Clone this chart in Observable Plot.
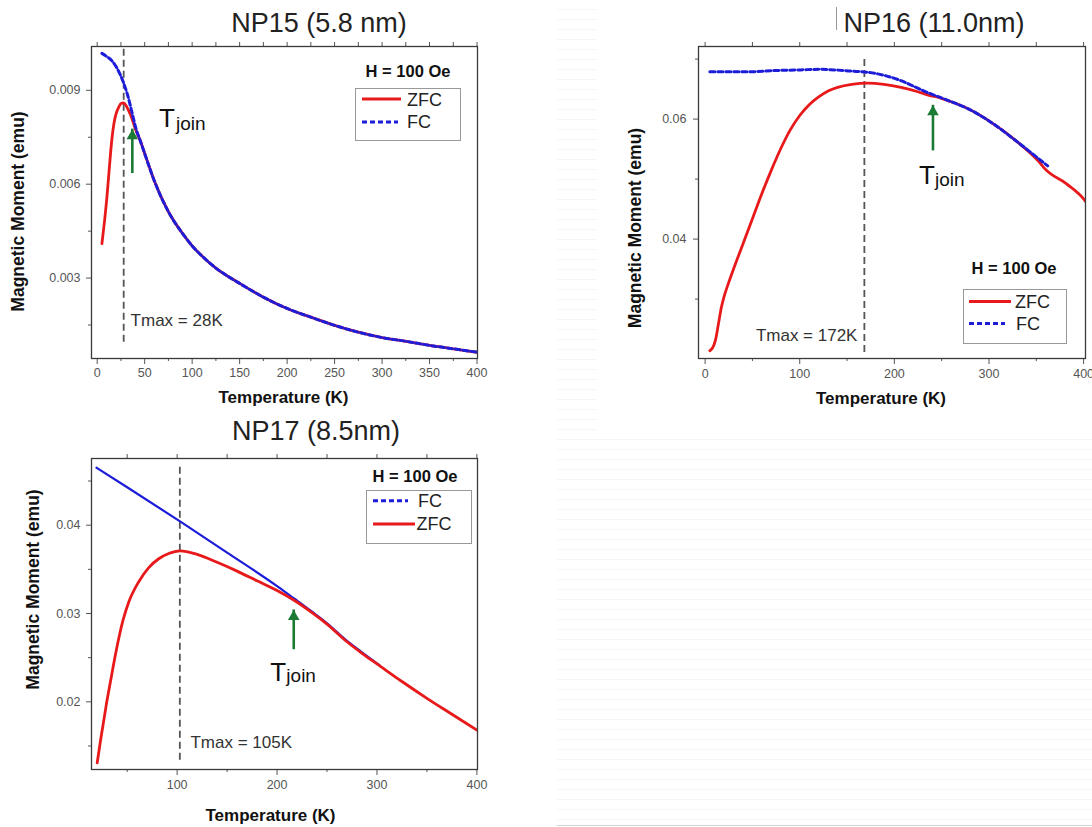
<!DOCTYPE html>
<html><head><meta charset="utf-8">
<script src="https://cdn.jsdelivr.net/npm/d3@7"></script>
<script src="https://cdn.jsdelivr.net/npm/@observablehq/plot@0.6"></script>
<style>
html,body{margin:0;padding:0;background:#fff;}
#wrap{position:relative;width:1092px;height:827px;overflow:hidden;font-family:"Liberation Sans",Arial,sans-serif;background:#fff;}
.panel{position:absolute;}
#stripesA{position:absolute;left:557px;top:0;width:40px;height:430px;background:repeating-linear-gradient(to bottom,#fff 0,#fff 9px,#f6f6f6 9px,#f6f6f6 10px);}
#stripesB{position:absolute;left:557px;top:430px;width:535px;height:395px;background:repeating-linear-gradient(to bottom,#fff 0,#fff 9px,#f6f6f6 9px,#f6f6f6 10px);}
#overlay{position:absolute;left:0;top:0;pointer-events:none;}
</style></head><body><div id="wrap"><div id="stripesA"></div><div id="stripesB"></div></div>
<script>
// ---------------- DATA ----------------
const titles = ["NP15 (5.8 nm)", "NP16 (11.0nm)", "NP17 (8.5nm)"];
const xLabel = "Temperature (K)";
const yLabel = "Magnetic Moment (emu)";
const fieldLabel = "H = 100 Oe";

// NP15
const np15ZfcT = [5, 8, 10, 13, 15, 18, 20, 23, 25, 28, 31, 33, 36, 38, 40, 45, 50, 60, 75, 90, 100, 112, 125, 150, 175, 200, 225, 250, 275, 300, 325, 350, 375, 400];
const np15ZfcM = [0.0041, 0.0049, 0.0055, 0.0066, 0.0073, 0.0080, 0.00826, 0.00848, 0.00858, 0.0086, 0.00848, 0.00836, 0.00815, 0.00797, 0.00778, 0.00742, 0.00698, 0.00612, 0.00512, 0.00442, 0.00403, 0.00366, 0.00332, 0.00283, 0.00239, 0.00203, 0.00175, 0.00149, 0.00127, 0.0011, 0.00098, 0.00085, 0.00074, 0.00063];
const np15FcT = [5, 10, 15, 20, 25, 28, 32, 35, 38, 41, 45, 50, 60, 75, 90, 100, 112, 125, 150, 175, 200, 225, 250, 275, 300, 325, 350, 375, 400];
const np15FcM = [0.01018, 0.01008, 0.00996, 0.00975, 0.00945, 0.00922, 0.00885, 0.0085, 0.00812, 0.00776, 0.00742, 0.00698, 0.00612, 0.00512, 0.00442, 0.00403, 0.00366, 0.00332, 0.00283, 0.00239, 0.00203, 0.00175, 0.00149, 0.00127, 0.0011, 0.00098, 0.00085, 0.00074, 0.00063];

// NP16
const np16ZfcT = [5, 8, 11, 14, 17, 20, 25, 30, 40, 50, 60, 70, 80, 90, 100, 110, 120, 130, 140, 155, 172, 189, 207, 224, 236, 249, 260, 277, 300, 330, 355, 358, 382, 400, 402];
const np16ZfcM = [0.0214, 0.0219, 0.0232, 0.0258, 0.0285, 0.0304, 0.0328, 0.035, 0.0392, 0.0434, 0.0476, 0.0515, 0.0551, 0.0582, 0.0606, 0.0624, 0.0637, 0.0647, 0.0653, 0.0658, 0.066, 0.0658, 0.0653, 0.0646, 0.064, 0.0635, 0.0629, 0.0618, 0.0597, 0.0562, 0.0525, 0.0519, 0.0492, 0.0467, 0.0463];
const np16FcT = [5, 25, 48, 75, 101, 120, 136, 155, 172, 189, 207, 220, 231, 242, 252, 260, 277, 300, 330, 350, 362];
const np16FcM = [0.0679, 0.0679, 0.0679, 0.0681, 0.0682, 0.0683, 0.0682, 0.068, 0.0678, 0.0673, 0.0664, 0.0655, 0.0647, 0.064, 0.0634, 0.0629, 0.0618, 0.0597, 0.0562, 0.0537, 0.0522];

// NP17
const np17ZfcT = [20, 22, 24, 26.6, 29, 32, 36, 41.6, 46, 51.6, 61.6, 71.6, 81.6, 91.6, 103, 120, 140, 160, 180, 200, 217, 235, 250, 270, 285, 300, 325, 350, 375, 400];
const np17ZfcM = [0.0131, 0.0146, 0.0161, 0.0179, 0.0196, 0.0215, 0.024, 0.0272, 0.0293, 0.0313, 0.0336, 0.0352, 0.0362, 0.0368, 0.0371, 0.0367, 0.0358, 0.0348, 0.0337, 0.0326, 0.0315, 0.0301, 0.0288, 0.0268, 0.0255, 0.0243, 0.0223, 0.0204, 0.0186, 0.0168];
const np17FcT = [19.3, 50, 103.3, 150, 200, 217, 235, 250, 270, 285, 303];
const np17FcM = [0.0465, 0.0443, 0.0404, 0.0369, 0.0331, 0.0317, 0.0302, 0.0289, 0.0269, 0.0256, 0.0241];

// annotations: Tmax rule (x, y1, y2), Tmax label (x, y), Tjoin label (x, y), arrow (x, tail, tip)
const tmaxLabels = ["Tmax = 28K", "Tmax = 172K", "Tmax = 105K"];
const tmaxRules = [[27.9, 0.00095, 0.0104], [168.3, 0.0211, 0.0700], [102.7, 0.0134, 0.0468]];
const tmaxTextPos = [[35.2, 0.001465], [161, 0.02305], [113.3, 0.01472]];
const tjoinPos = [[65, 0.00782], [226, 0.04917], [193.3, 0.0224]];
const arrows = [[37, 0.00634, 0.00776], [240.8, 0.0547, 0.0623], [216.7, 0.0259, 0.0304]];

// ticks
const np15XTicks = [0, 50, 100, 150, 200, 250, 300, 350, 400];
const np15YTicks = [0.003, 0.006, 0.009];
const np16XTicks = [0, 100, 200, 300, 400];
const np16YTicks = [0.04, 0.06];
const np17XTicks = [100, 200, 300, 400];
const np17YTicks = [0.02, 0.03, 0.04];

// ---------------- DRAWING ----------------
const RED = "#e8191b", BLUE = "#1c1cd9", GREEN = "#1b7a34";
const FONT = "Liberation Sans, Arial, sans-serif";
const rows = (T, M) => T.map((t, i) => ({T: t, M: M[i]}));
const range = (a, b, s) => d3.range(a, b + s / 2, s);

function makePanel(cfg, i) {
  const zfc = rows(cfg.zfcT, cfg.zfcM), fc = rows(cfg.fcT, cfg.fcM);
  const [rx, ry1, ry2] = tmaxRules[i];
  const [tx, ty] = tmaxTextPos[i];
  const [jx, jy] = tjoinPos[i];
  const [ax, atail, atip] = arrows[i];
  const fcMark = cfg.fcSolid
    ? Plot.line(fc, {x: "T", y: "M", stroke: BLUE, strokeWidth: 2.2, curve: "monotone-x", clip: true})
    : Plot.line(fc, {x: "T", y: "M", stroke: BLUE, strokeWidth: 3, strokeDasharray: "5,3", curve: "monotone-x", clip: true});
  const zfcMark = Plot.line(zfc, {x: "T", y: "M", stroke: RED, strokeWidth: 2.8, curve: "monotone-x", clip: true});
  const lines = cfg.fcSolid ? [fcMark, zfcMark] : [zfcMark, fcMark];
  const blank = () => "";
  const p = Plot.plot({
    width: cfg.width, height: cfg.height,
    marginLeft: cfg.ml, marginRight: cfg.mr, marginTop: cfg.mt, marginBottom: cfg.mb,
    style: {fontFamily: FONT, background: "white", overflow: "visible"},
    x: {domain: cfg.xDomain},
    y: {domain: cfg.yDomain},
    marks: [
      Plot.axisX({anchor: "bottom", ticks: cfg.xTicks, tickSize: 6, tickPadding: cfg.xPad, tickFormat: d => String(d), label: null, fontSize: 12.5, color: "#555"}),
      Plot.axisX({anchor: "bottom", ticks: cfg.xMinor, tickSize: 3, tickFormat: blank, label: null, color: "#555"}),
      Plot.axisX({anchor: "top", ticks: cfg.xTop, tickSize: 5, tickFormat: blank, label: null, color: "#555"}),
      Plot.axisY({anchor: "left", ticks: cfg.yTicks, tickSize: 5, tickPadding: cfg.yPad, tickFormat: d3.format(cfg.yFmt), label: null, fontSize: 12.5, color: "#555"}),
      Plot.axisY({anchor: "left", ticks: cfg.yMinor, tickSize: 3, tickFormat: blank, label: null, color: "#555"}),
      Plot.ruleX([{x: rx, y1: ry1, y2: ry2}], {x: "x", y1: "y1", y2: "y2", stroke: "#555", strokeWidth: 1.8, strokeDasharray: "7,4"}),
      ...lines,
      Plot.frame({stroke: "#3a3a3a", strokeWidth: 1.3}),
      Plot.text([{x: tx, y: ty, t: tmaxLabels[i]}], {x: "x", y: "y", text: "t", textAnchor: cfg.tmaxAnchor, lineAnchor: "bottom", fontSize: 17, fill: "#333"}),
      Plot.text([{x: jx, y: jy}], {x: "x", y: "y", text: () => "T", textAnchor: "start", lineAnchor: "bottom", fontSize: 26, fill: "#111"}),
      Plot.text([{x: jx, y: jy}], {x: "x", y: "y", text: () => "join", textAnchor: "start", lineAnchor: "bottom", fontSize: 19, fill: "#111", dx: cfg.joinDx, dy: cfg.joinDy}),
      Plot.ruleX([{x: ax, y1: atail, y2: atip}], {x: "x", y1: "y1", y2: "y2", stroke: GREEN, strokeWidth: 2.6}),
      Plot.dot([{x: ax, y: atip}], {x: "x", y: "y", symbol: "triangle", r: 4.3, fill: GREEN, stroke: "none", dy: 6.7}),
      Plot.text([xLabel], {text: d => d, frameAnchor: "bottom", textAnchor: "middle", lineAnchor: "bottom", dx: cfg.xlDx, dy: cfg.xlDy, fontSize: 17, fontWeight: "bold", fill: "#111"}),
      Plot.text([yLabel], {text: d => d, frameAnchor: "left", textAnchor: "middle", lineAnchor: "middle", rotate: -90, dx: cfg.ylDx, dy: cfg.ylDy, fontSize: 17.5, fontWeight: "bold", fill: "#111"})
    ]
  });
  const div = document.createElement("div");
  div.className = "panel";
  div.style.left = cfg.left + "px";
  div.style.top = cfg.top + "px";
  div.appendChild(p);
  document.getElementById("wrap").appendChild(div);
}

const panels = [
  {left: 0, top: 0, width: 490, height: 410, ml: 91, mr: 13, mt: 46, mb: 52,
   xDomain: [-6, 400.5], yDomain: [0.00043, 0.0104],
   xTicks: np15XTicks, xMinor: range(25, 375, 50), xTop: range(0, 400, 25),
   yTicks: np15YTicks, yMinor: [0.0015, 0.0045, 0.0075], yFmt: ".3f", xPad: 4, yPad: 6,
   zfcT: np15ZfcT, zfcM: np15ZfcM, fcT: np15FcT, fcM: np15FcM, fcSolid: false,
   tmaxAnchor: "start", joinDx: 17, joinDy: 3,
   xlDx: -1, xlDy: 44.5, ylDx: -73, ylDy: 9},
  {left: 600, top: 0, width: 492, height: 410, ml: 98, mr: 7, mt: 46, mb: 52,
   xDomain: [-7, 402], yDomain: [0.0201, 0.0721],
   xTicks: np16XTicks, xMinor: [50, 150, 250, 350], xTop: range(0, 400, 50),
   yTicks: np16YTicks, yMinor: [0.03, 0.05, 0.07], yFmt: ".2f", xPad: 5, yPad: 7,
   zfcT: np16ZfcT, zfcM: np16ZfcM, fcT: np16FcT, fcM: np16FcM, fcSolid: false,
   tmaxAnchor: "end", joinDx: 16, joinDy: 2,
   xlDx: -11, xlDy: 45.5, ylDx: -63, ylDy: 25.5},
  {left: 0, top: 410, width: 500, height: 417, ml: 91, mr: 23, mt: 48, mb: 58,
   xDomain: [14.3, 400.6], yDomain: [0.01234, 0.04755],
   xTicks: np17XTicks, xMinor: [50, 150, 250, 350], xTop: range(50, 400, 50),
   yTicks: np17YTicks, yMinor: [0.015, 0.025, 0.035, 0.045], yFmt: ".2f", xPad: 5, yPad: 6,
   zfcT: np17ZfcT, zfcM: np17ZfcM, fcT: np17FcT, fcM: np17FcM, fcSolid: true,
   tmaxAnchor: "start", joinDx: 16, joinDy: 1,
   xlDx: -14, xlDy: 51.4, ylDx: -58, ylDy: -24.5}
];
panels.forEach(makePanel);

// ---------------- OVERLAY: titles and legends ----------------
const svg = d3.select("#wrap").append("svg").attr("id", "overlay")
  .attr("width", 1092).attr("height", 827).style("font-family", FONT);

const titlePos = [[319, 32], [934, 32], [316, 440]];
titles.forEach((t, i) => svg.append("text").attr("x", titlePos[i][0]).attr("y", titlePos[i][1])
  .attr("text-anchor", "middle").attr("font-size", 27).attr("fill", "#222").text(t));
// stray cursor mark next to NP16 title
svg.append("line").attr("x1", 836.5).attr("x2", 836.5).attr("y1", 7).attr("y2", 30).attr("stroke", "#999").attr("stroke-width", 1);
svg.append("line").attr("x1", 557).attr("x2", 1092).attr("y1", 825.5).attr("y2", 825.5).attr("stroke", "#d4d4d4");

const legends = [
  {hx: 408, hy: 77, box: [355, 88, 105, 52], entries: [
     {name: "ZFC", color: RED, dash: null, x1: 362, x2: 401, y: 99, tx: 407, ty: 106},
     {name: "FC", color: BLUE, dash: "5,3", x1: 362, x2: 398, y: 122, tx: 407, ty: 128}]},
  {hx: 1014, hy: 274, box: [963, 289, 103, 54], entries: [
     {name: "ZFC", color: RED, dash: null, x1: 969, x2: 1011, y: 301.5, tx: 1015, ty: 307.5},
     {name: "FC", color: BLUE, dash: "5,3", x1: 969, x2: 1005, y: 323.5, tx: 1016, ty: 329.5}]},
  {hx: 415, hy: 482, box: [366, 490, 105, 53], entries: [
     {name: "FC", color: BLUE, dash: "5,3", x1: 373, x2: 408, y: 500.7, tx: 418, ty: 507.3},
     {name: "ZFC", color: RED, dash: null, x1: 373, x2: 415, y: 524, tx: 416.5, ty: 529.5}]}
];
legends.forEach(L => {
  svg.append("text").attr("x", L.hx).attr("y", L.hy).attr("text-anchor", "middle")
    .attr("font-size", 16.5).attr("font-weight", "bold").attr("fill", "#111").text(fieldLabel);
  svg.append("rect").attr("x", L.box[0] + 0.5).attr("y", L.box[1] + 0.5).attr("width", L.box[2]).attr("height", L.box[3])
    .attr("fill", "white").attr("stroke", "#999").attr("stroke-width", 1);
  L.entries.forEach(e => {
    const ln = svg.append("line").attr("x1", e.x1).attr("x2", e.x2).attr("y1", e.y).attr("y2", e.y)
      .attr("stroke", e.color).attr("stroke-width", 3);
    if (e.dash) ln.attr("stroke-dasharray", e.dash);
    svg.append("text").attr("x", e.tx).attr("y", e.ty).attr("font-size", 18).attr("fill", "#222").text(e.name);
  });
});
</script>
</body></html>
